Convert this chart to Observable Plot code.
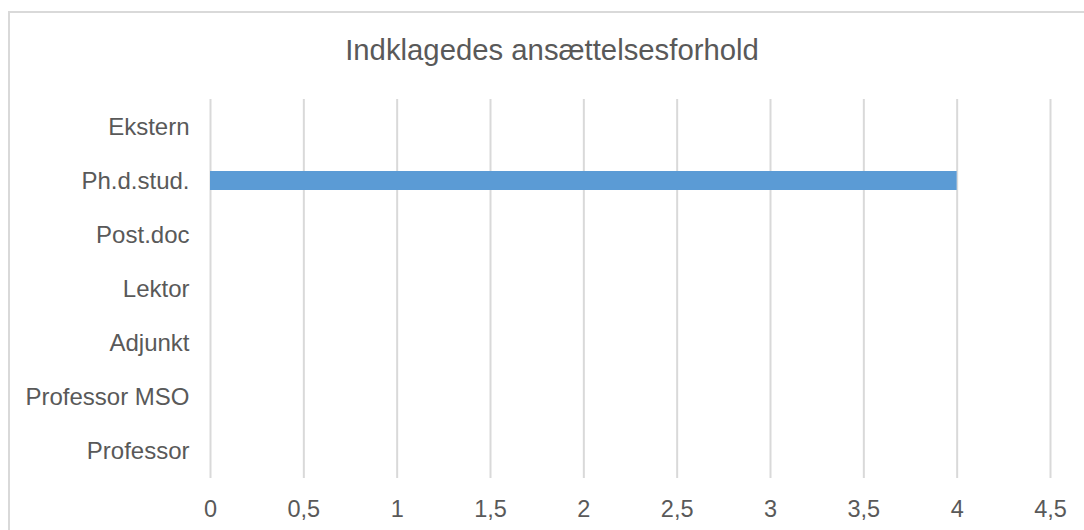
<!DOCTYPE html>
<html>
<head>
<meta charset="utf-8">
<script src="https://cdn.jsdelivr.net/npm/d3@7"></script>
<script src="https://cdn.jsdelivr.net/npm/@observablehq/plot@0.6"></script>
<style>
  html, body { margin: 0; padding: 0; background: #fff; }
  #wrap { position: relative; width: 1084px; height: 530px; overflow: hidden; font-family: "Liberation Sans", Arial, sans-serif; }
  #frame { position: absolute; left: 8px; top: 11px; width: 1200px; height: 600px; border-left: 2px solid #d9d9d9; border-top: 2px solid #d9d9d9; box-sizing: border-box; }
  #title { position: absolute; top: 34.5px; left: 552px; transform: translateX(-50%); white-space: nowrap; font-size: 29.3px; line-height: 29px; color: #595959; }
  #chart { position: absolute; left: 0; top: 80px; }
</style>
</head>
<body>
<div id="wrap">
  <div id="frame"></div>
  <div id="title">Indklagedes ansættelsesforhold</div>
  <div id="chart"></div>
</div>
<script>
const categories = ["Ekstern", "Ph.d.stud.", "Post.doc", "Lektor", "Adjunkt", "Professor MSO", "Professor"];
const values = [0, 4, 0, 0, 0, 0, 0];
const xTicks = [0, 0.5, 1, 1.5, 2, 2.5, 3, 3.5, 4, 4.5];
const xTickLabels = ["0", "0,5", "1", "1,5", "2", "2,5", "3", "3,5", "4", "4,5"];

const data = categories.map((c, i) => ({category: c, value: values[i]}));
const font = "'Liberation Sans', Arial, sans-serif";

const chart = Plot.plot({
  width: 1084,
  height: 450,
  marginTop: 19,
  marginBottom: 52,
  marginLeft: 210,
  marginRight: 34,
  style: {fontFamily: font, fontSize: "24px", color: "#595959", background: "transparent"},
  x: {domain: [0, 4.5]},
  y: {domain: categories, paddingInner: 0.64, paddingOuter: 0.32},
  marks: [
    Plot.gridX(xTicks, {stroke: "#d9d9d9", strokeOpacity: 1, strokeWidth: 2}),
    Plot.barX(data, {x: "value", y: "category", fill: "#5b9bd5"}),
    Plot.axisX(xTicks, {tickSize: 0, tickPadding: 21.5, tickFormat: d => xTickLabels[xTicks.indexOf(d)], fill: "#595959", fontSize: 23.5, label: null}),
    Plot.axisY({tickSize: 0, tickPadding: 21, fill: "#595959", fontSize: 24, label: null})
  ]
});
document.getElementById("chart").appendChild(chart);
</script>
</body>
</html>
